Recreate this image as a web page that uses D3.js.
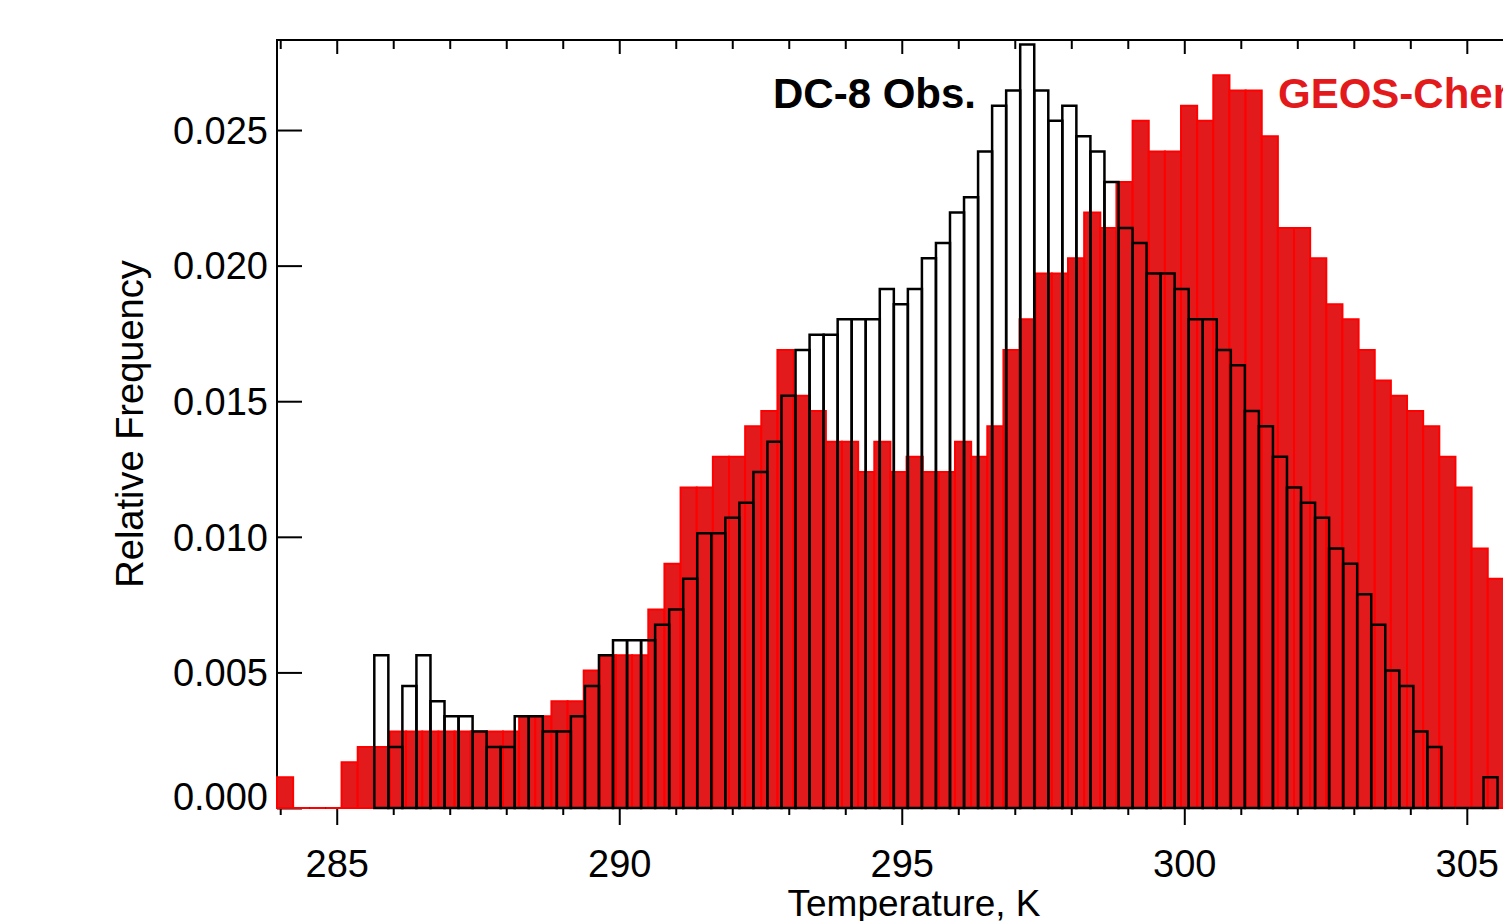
<!DOCTYPE html>
<html>
<head>
<meta charset="utf-8">
<script src="https://cdn.jsdelivr.net/npm/d3@7"></script>
<style>
    body { margin: 0; background: #fff; overflow: hidden; }
    text { font-family: "Liberation Sans", Arial, Helvetica, sans-serif; }
</style>
</head>
<body>
<div id="chart"></div>
<script>

// Temperature histograms (relative frequency per bin)
let modelStart = 283.943;   // GEOS-Chem first bin edge, K
let modelWidth = 0.2857;    // GEOS-Chem bin width, K
let obsStart = 285.665;     // DC-8 first bin edge, K
let obsWidth = 0.2485;      // DC-8 bin width, K

let modelFreq = [
    0.00113, 0, 0, 0, 0.00169, 0.00225, 0.00225, 0.00282, 0.00282, 0.00282,
    0.00282, 0.00282, 0.00282, 0.00282, 0.00282, 0.00338, 0.00338, 0.00394, 0.00394, 0.00507,
    0.00563, 0.00563, 0.00563, 0.00732, 0.00901, 0.01182, 0.01182, 0.01295, 0.01295, 0.01408,
    0.01464, 0.01689, 0.01520, 0.01464, 0.01351, 0.01351, 0.01239, 0.01351, 0.01239, 0.01295,
    0.01239, 0.01239, 0.01351, 0.01295, 0.01408, 0.01689, 0.01802, 0.01971, 0.01971, 0.02027,
    0.02196, 0.02139, 0.02308, 0.02534, 0.02421, 0.02421, 0.02590, 0.02534, 0.02702, 0.02646,
    0.02646, 0.02477, 0.02139, 0.02139, 0.02027, 0.01858, 0.01802, 0.01689, 0.01576, 0.01520,
    0.01464, 0.01408, 0.01295, 0.01182, 0.00957, 0.00845
];

let obsFreq = [
    0.00563, 0.00225, 0.00450, 0.00563, 0.00394, 0.00338, 0.00338, 0.00282, 0.00225, 0.00225,
    0.00338, 0.00338, 0.00282, 0.00282, 0.00338, 0.00450, 0.00563, 0.00619, 0.00619, 0.00619,
    0.00676, 0.00732, 0.00845, 0.01013, 0.01013, 0.01070, 0.01126, 0.01239, 0.01351, 0.01520,
    0.01689, 0.01745, 0.01745, 0.01802, 0.01802, 0.01802, 0.01914, 0.01858, 0.01914, 0.02027,
    0.02083, 0.02196, 0.02252, 0.02421, 0.02590, 0.02646, 0.02815, 0.02646, 0.02534, 0.02590,
    0.02477, 0.02421, 0.02308, 0.02139, 0.02083, 0.01971, 0.01971, 0.01914, 0.01802, 0.01802,
    0.01689, 0.01633, 0.01464, 0.01408, 0.01295, 0.01182, 0.01126, 0.01070, 0.00957, 0.00901,
    0.00788, 0.00676, 0.00507, 0.00450, 0.00282, 0.00225, 0, 0, 0, 0.00113
];

let xMajor = [285, 290, 295, 300, 305];
let xMinor = [284, 286, 287, 288, 289, 291, 292, 293, 294, 296, 297, 298, 299, 301, 302, 303, 304, 306];
let yTicks = [0, 0.005, 0.010, 0.015, 0.020, 0.025];

let margin = {top: 40, left: 277, bottom: 113};
let svgW = 1503, svgH = 921;
let plotW = 1274;
let plotH = svgH - margin.top - margin.bottom;

let svg = d3.select("#chart").append("svg")
    .attr("width", svgW)
    .attr("height", svgH);

let g = svg.append("g")
    .attr("transform", "translate(" + margin.left + "," + margin.top + ")");

let x = d3.scaleLinear()
    .domain([283.943, 306.49])
    .range([0, plotW]);

let y = d3.scaleLinear()
    .domain([0, 0.02832])
    .range([plotH, 0]);

// axes first, bars are drawn over them
let xAxisMajor = d3.axisBottom(x).tickValues(xMajor).tickSize(17).tickSizeOuter(0).tickFormat(d3.format("d"));
let xAxisMinor = d3.axisBottom(x).tickValues(xMinor).tickSize(7).tickSizeOuter(0).tickFormat("");
let topMajor = d3.axisTop(x).tickValues(xMajor).tickSize(-14).tickSizeOuter(0).tickFormat("");
let topMinor = d3.axisTop(x).tickValues(xMinor).tickSize(-9).tickSizeOuter(0).tickFormat("");
let yAxis = d3.axisLeft(y).tickValues(yTicks).tickSizeInner(-25).tickSizeOuter(0).tickPadding(9)
    .tickFormat(d3.format(".3f"));

g.append("g").attr("class", "x-axis").attr("transform", "translate(0," + plotH + ")").call(xAxisMajor);
g.append("g").attr("class", "x-axis").attr("transform", "translate(0," + plotH + ")").call(xAxisMinor);
g.append("g").attr("class", "x-axis").call(topMajor);
g.append("g").attr("class", "x-axis").call(topMinor);
g.append("g").attr("class", "y-axis").call(yAxis);

g.selectAll(".x-axis path.domain, .y-axis path.domain").remove();
g.selectAll(".tick line").attr("stroke", "#000").attr("stroke-width", 2);

g.selectAll(".x-axis .tick text")
    .attr("y", 69)
    .attr("dy", null)
    .attr("font-size", 38)
    .attr("fill", "#000");

g.selectAll(".y-axis .tick text")
    .attr("font-size", 38)
    .attr("fill", "#000")
    .attr("dy", d => d === 0 ? "0.03em" : "0.35em");

// frame
g.append("rect")
    .attr("x", 0)
    .attr("y", 0)
    .attr("width", plotW)
    .attr("height", plotH)
    .attr("fill", "none")
    .attr("stroke", "#000")
    .attr("stroke-width", 2);

function barPath(start, width, v, i) {
    let x0 = x(start + i * width), x1 = x(start + (i + 1) * width);
    return "M" + x0 + "," + y(0) + "V" + y(v) + "H" + x1 + "V" + y(0) + "Z";
}

// GEOS-Chem (filled red)
g.selectAll(".model-bar")
    .data(modelFreq)
    .enter().append("path")
    .attr("class", "model-bar")
    .attr("d", (d, i) => barPath(modelStart, modelWidth, d, i))
    .attr("fill", "#e31a1c")
    .attr("stroke", "#ff0000")
    .attr("stroke-width", 2);

// DC-8 observations (black outline)
g.selectAll(".obs-bar")
    .data(obsFreq)
    .enter().append("path")
    .attr("class", "obs-bar")
    .attr("d", (d, i) => barPath(obsStart, obsWidth, d, i))
    .attr("fill", "none")
    .attr("stroke", "#000")
    .attr("stroke-width", 2.5);

// labels
g.append("text")
    .attr("x", 773 - margin.left)
    .attr("y", 108 - margin.top)
    .attr("font-size", 42)
    .attr("font-weight", "bold")
    .attr("fill", "#000")
    .text("DC-8 Obs.");

g.append("text")
    .attr("x", 1278 - margin.left)
    .attr("y", 108 - margin.top)
    .attr("font-size", 42)
    .attr("font-weight", "bold")
    .attr("fill", "#e31a1c")
    .text("GEOS-Chem");

svg.append("text")
    .attr("transform", "translate(143," + (margin.top + plotH / 2) + ") rotate(-90)")
    .attr("text-anchor", "middle")
    .attr("font-size", 38)
    .attr("fill", "#000")
    .text("Relative Frequency");

svg.append("text")
    .attr("x", margin.left + plotW / 2)
    .attr("y", 916)
    .attr("text-anchor", "middle")
    .attr("font-size", 37)
    .attr("fill", "#000")
    .text("Temperature, K");

</script>
</body>
</html>
